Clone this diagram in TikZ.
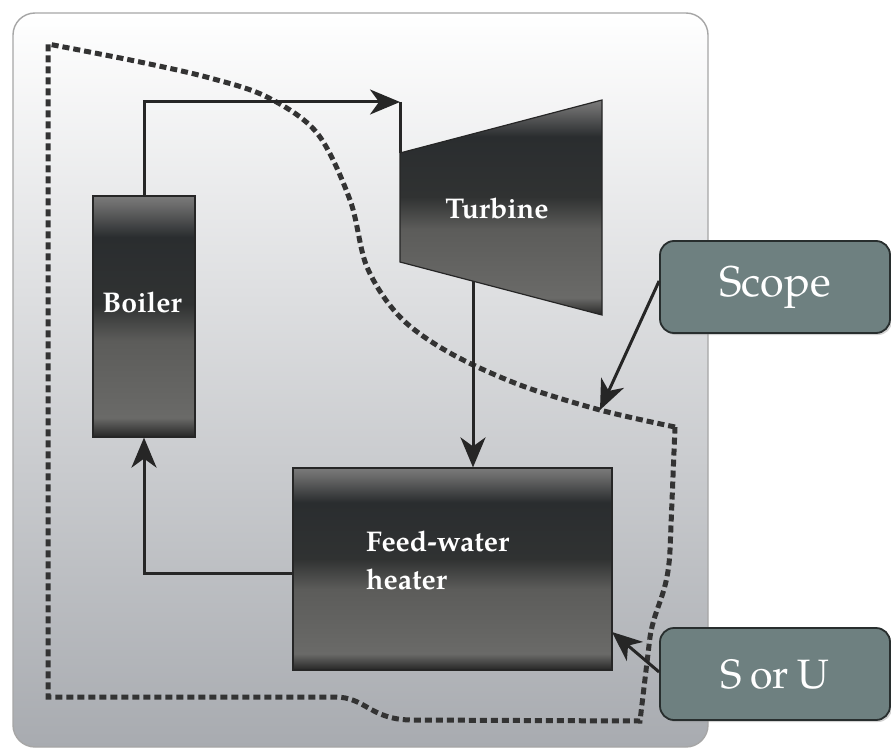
\documentclass[tikz,border=0pt]{standalone}
\usepackage{fontspec}
\setmainfont{texgyrepagella}[Extension=.otf, UprightFont=*-regular, BoldFont=*-bold, ItalicFont=*-italic, BoldItalicFont=*-bolditalic]
\usetikzlibrary{arrows.meta,shadows}
\definecolor{mtop}{HTML}{7A7A7A}
\definecolor{mz}{HTML}{6A6A6A}
\definecolor{mone}{HTML}{2A2D2F}
\definecolor{mtwo}{HTML}{303232}
\definecolor{mthree}{HTML}{5C5C5A}
\definecolor{mfour}{HTML}{6A6A68}
\definecolor{mfive}{HTML}{262626}
\definecolor{panelbot}{RGB}{168,171,176}
\definecolor{calloutfill}{RGB}{110,128,128}
\definecolor{calloutborder}{RGB}{40,46,46}
\pgfdeclareverticalshading{metal}{100bp}{color(0bp)=(mfive); color(25bp)=(mfive); color(29bp)=(mfour); color(45bp)=(mthree); color(52.5bp)=(mtwo); color(66.5bp)=(mone); color(73bp)=(mz); color(75bp)=(mtop); color(100bp)=(mtop)}
\begin{document}
\begin{tikzpicture}[x=1pt,y=-1pt,
  conn/.style={line width=3pt, draw=black!85},
  flow/.style={conn, -{Stealth[length=30pt,width=25pt,inset=9pt]}},
  unit/.style={draw=black!85, line width=1.2pt, shading=metal},
  lbl/.style={text=white, font=\fontsize{28.5}{38}\selectfont\bfseries},
  callout/.style={draw=calloutborder, line width=1.8pt, fill=calloutfill, rounded corners=14pt,
    minimum width=230pt, minimum height=92pt, inner sep=0pt, text=white,
    font=\fontsize{43}{50}\selectfont,
    drop shadow={shadow xshift=2pt, shadow yshift=-2pt, opacity=0.35}},
  boundary/.style={draw=black!80, line width=5pt, dash pattern=on 7pt off 4pt}]
\useasboundingbox (0,0) rectangle (891,749);
\fill[white] (0,0) rectangle (891,749);
% panel
\shade[top color=white, bottom color=panelbot, draw=gray!70, line width=1.4pt, rounded corners=22pt]
  (13,13) rectangle (708,747);
% boundary
\draw[boundary] plot[smooth, tension=0.55] coordinates {(675,427) (600,410) (520,385) (450,353) (400,317) (367,267) (350,200) (317,133) (267,97) (210,78) (140,62) (48,44)}
  -- (48,697) -- (335,697) .. controls (365,697) and (370,719) .. (410,720) -- (640,721) -- (650,637) .. controls (655,605) and (668,595) .. (670,550) -- cycle;
% units
\node[unit, minimum width=102pt, minimum height=241pt, inner sep=0pt] (boiler) at (144,316.5) {};
\node[lbl] (boilertext) at (142,302) {Boiler};
\draw[unit] (400,153) -- (602,100) -- (602,315) -- (400,262) -- cycle;
\node[lbl] (turbine) at (497,208) {Turbine};
\coordinate (tin) at (400,153);
\coordinate (tturn) at (400,102);
\coordinate (tout) at (473,281);
\node[unit, minimum width=319pt, minimum height=202pt, inner sep=0pt] (heater) at (452.5,569) {};
\node[lbl, align=left, anchor=north west, inner sep=0pt] (heatertext) at (366,531) {Feed-water\\heater};
% flows
\draw[flow] (boiler.north) |- (tturn);
\draw[conn] (tturn) -- (tin);
\draw[flow] (tout) -- (tout |- heater.north);
\draw[flow] ([yshift=-4pt]heater.west) -| (boiler.south);
% callouts
\node[callout] (scope) at (775,287) {Scope};
\node[callout, font=\fontsize{41}{50}\selectfont] (sou) at (775,674) {S\hspace{0.2em}or\hspace{0.2em}U};
\coordinate (scopetip) at (600,410);
\coordinate (soutip) at (612,632);
\draw[flow] ([yshift=6pt]scope.west) -- (scopetip);
\draw[flow] ([yshift=2pt]sou.west) -- (soutip);
\end{tikzpicture}
\end{document}
